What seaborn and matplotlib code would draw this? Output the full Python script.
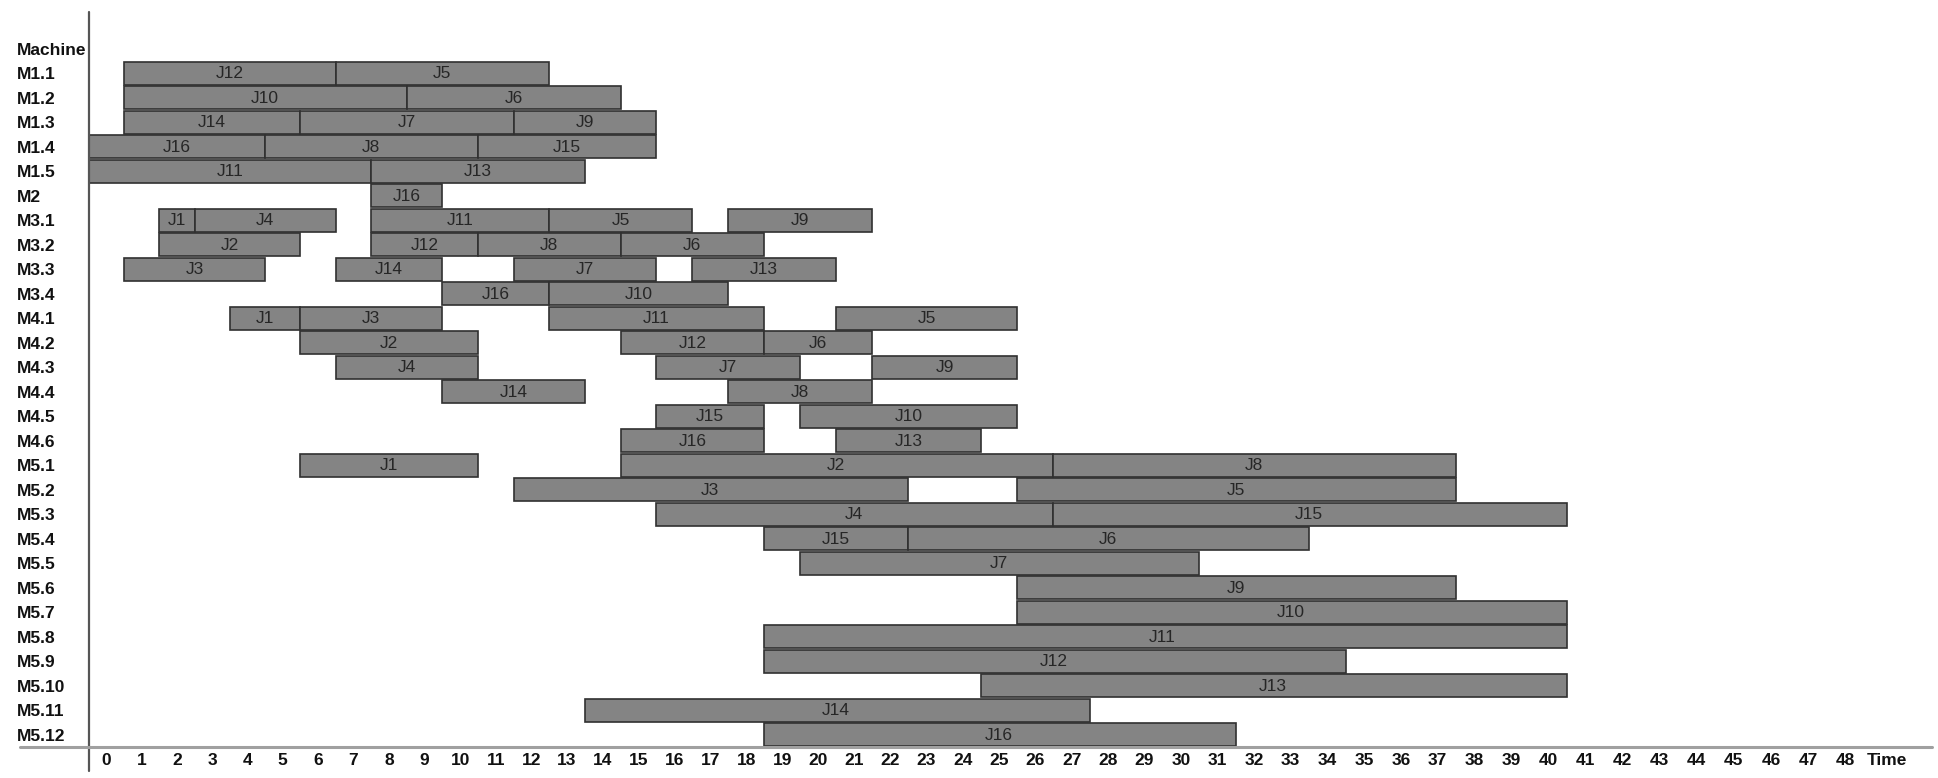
import matplotlib
matplotlib.use("Agg")
import matplotlib.pyplot as plt
from matplotlib import font_manager
import seaborn as sns
import pandas as pd
import numpy as np

# ---------------- data ----------------
machines = ["M1.1", "M1.2", "M1.3", "M1.4", "M1.5", "M2",
            "M3.1", "M3.2", "M3.3", "M3.4",
            "M4.1", "M4.2", "M4.3", "M4.4", "M4.5", "M4.6",
            "M5.1", "M5.2", "M5.3", "M5.4", "M5.5", "M5.6", "M5.7",
            "M5.8", "M5.9", "M5.10", "M5.11", "M5.12"]

task_machine = ["M1.1", "M1.1",
                "M1.2", "M1.2",
                "M1.3", "M1.3", "M1.3",
                "M1.4", "M1.4", "M1.4",
                "M1.5", "M1.5",
                "M2",
                "M3.1", "M3.1", "M3.1", "M3.1", "M3.1",
                "M3.2", "M3.2", "M3.2", "M3.2",
                "M3.3", "M3.3", "M3.3", "M3.3",
                "M3.4", "M3.4",
                "M4.1", "M4.1", "M4.1", "M4.1",
                "M4.2", "M4.2", "M4.2",
                "M4.3", "M4.3", "M4.3",
                "M4.4", "M4.4",
                "M4.5", "M4.5",
                "M4.6", "M4.6",
                "M5.1", "M5.1", "M5.1",
                "M5.2", "M5.2",
                "M5.3", "M5.3",
                "M5.4", "M5.4",
                "M5.5", "M5.6", "M5.7", "M5.8", "M5.9", "M5.10", "M5.11", "M5.12"]

task_job = ["J12", "J5",
            "J10", "J6",
            "J14", "J7", "J9",
            "J16", "J8", "J15",
            "J11", "J13",
            "J16",
            "J1", "J4", "J11", "J5", "J9",
            "J2", "J12", "J8", "J6",
            "J3", "J14", "J7", "J13",
            "J16", "J10",
            "J1", "J3", "J11", "J5",
            "J2", "J12", "J6",
            "J4", "J7", "J9",
            "J14", "J8",
            "J15", "J10",
            "J16", "J13",
            "J1", "J2", "J8",
            "J3", "J5",
            "J4", "J15",
            "J15", "J6",
            "J7", "J9", "J10", "J11", "J12", "J13", "J14", "J16"]

task_start = [1, 7,
              1, 9,
              1, 6, 12,
              0, 5, 11,
              0, 8,
              8,
              2, 3, 8, 13, 18,
              2, 8, 11, 15,
              1, 7, 12, 17,
              10, 13,
              4, 6, 13, 21,
              6, 15, 19,
              7, 16, 22,
              10, 18,
              16, 20,
              15, 21,
              6, 15, 27,
              12, 26,
              16, 27,
              19, 23,
              20, 26, 26, 19, 19, 25, 14, 19]

task_end = [7, 13,
            9, 15,
            6, 12, 16,
            5, 11, 16,
            8, 14,
            10,
            3, 7, 13, 17, 22,
            6, 11, 15, 19,
            5, 10, 16, 21,
            13, 18,
            6, 10, 19, 26,
            11, 19, 22,
            11, 20, 26,
            14, 22,
            19, 26,
            19, 25,
            11, 27, 38,
            23, 38,
            27, 41,
            23, 34,
            31, 38, 41, 41, 35, 41, 28, 32]

time_ticks = list(range(49))
x_title = "Time"
y_title = "Machine"

# ---------------- style ----------------
sns.set_theme(style="white")
names = {f.name for f in font_manager.fontManager.ttflist}
narrow = "Liberation Sans Narrow" if "Liberation Sans Narrow" in names else "Liberation Sans"
plt.rcParams["font.family"] = [narrow, "DejaVu Sans"]

W, H = 1938, 778
fig = plt.figure(figsize=(W / 100, H / 100), dpi=100)
ax_left, ax_right, ax_top, ax_bottom = 89, 1932, 12, 747
ax = fig.add_axes([ax_left / W, (H - ax_bottom) / H,
                   (ax_right - ax_left) / W, (ax_bottom - ax_top) / H])

# the source time axis is slightly stretched toward the right
A, B = 35.1, 0.023


def fwd(t):
    t = np.asarray(t, dtype=float)
    return A * t + B * t * t


def inv(x):
    x = np.asarray(x, dtype=float)
    return (-A + np.sqrt(np.maximum(A * A + 4 * B * x, 0.0))) / (2 * B)


ax.set_xscale("function", functions=(fwd, inv))

df = pd.DataFrame({"machine": task_machine, "job": task_job,
                   "start": task_start, "end": task_end})
row_of = {m: i for i, m in enumerate(machines)}
df["row"] = df["machine"].map(row_of)
df["dur"] = df["end"] - df["start"]

ax.barh(df["row"], df["dur"], left=df["start"], height=0.93,
        color="#848484", edgecolor="#303030", linewidth=1.2, zorder=2)

for _, r in df.iterrows():
    ax.text((r["start"] + r["end"]) / 2, r["row"] + 0.03, r["job"],
            ha="center", va="center", fontsize=12.5, color="#262626", zorder=3)

x_end = float(inv(ax_right - ax_left))
ax.set_xlim(0, x_end)
ax.set_ylim(len(machines) - 0.5, -2.5)

# y tick labels (left aligned, bold)
ax.set_yticks(list(range(-1, len(machines))))
ax.set_yticklabels([y_title] + machines, fontweight="bold", fontsize=12.5, color="#111111")
for lab in ax.get_yticklabels():
    lab.set_horizontalalignment("left")
ax.tick_params(axis="y", length=0, pad=(ax_left - 17) * 0.72)

# x tick labels centred in each unit cell, plus the axis title
ax.set_xticks([t + 0.5 for t in time_ticks] + [49.6])
ax.set_xticklabels([str(t) for t in time_ticks] + [x_title],
                   fontweight="bold", fontsize=12.5, color="#111111")
ax.tick_params(axis="x", length=0, pad=4)
ax.minorticks_off()

for s in ax.spines.values():
    s.set_visible(False)
ax.grid(False)

# axis lines (Excel style, extending past the corner)
ax.plot([0, 0], [-0.032, 1.0], transform=ax.transAxes, color="#555555",
        lw=1.6, clip_on=False, zorder=4)
ax.plot([-0.0374, 1.0], [0, 0], transform=ax.transAxes, color="#a0a0a0",
        lw=2.2, clip_on=False, zorder=4)

fig.savefig("out.png", dpi=100)
